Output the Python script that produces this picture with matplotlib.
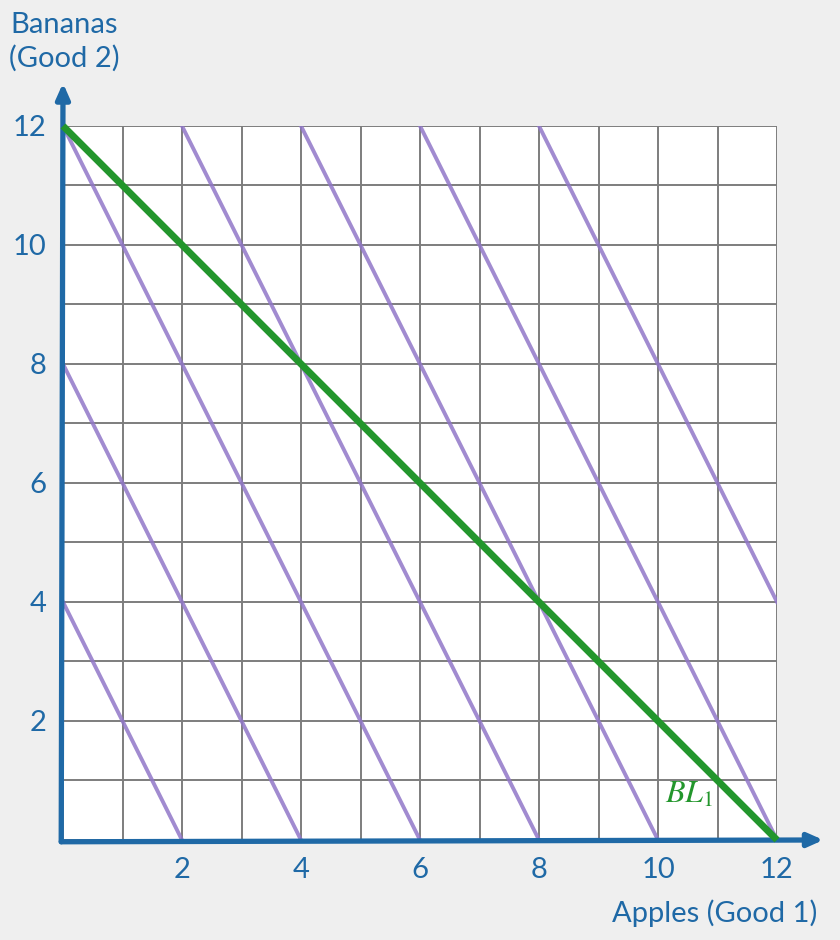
import numpy as np
import matplotlib.pyplot as plt

# indifference lines u = 2*apples + bananas (perfect substitutes)
util_levels = [4, 8, 12, 16, 20, 24, 28]
mrs = 2
# budget line 1
bl_x = [0, 12]
bl_y = [12, 0]
ticks = [2, 4, 6, 8, 10, 12]

blue = '#1f69a6'
purple = '#9177c8'
green = '#23962c'
plt.rcParams['font.family'] = ['Lato', 'DejaVu Sans']
plt.rcParams['mathtext.fontset'] = 'stix'

fig = plt.figure(figsize=(8.4, 9.4), dpi=100, facecolor='#efefef')
ax = fig.add_axes([0.075, 0.1064, 0.85, 0.7596])
ax.set_facecolor('white')

ax.set_xlim(0, 12)
ax.set_ylim(0, 12)
ax.set_xticks(np.arange(0, 13, 1))
ax.set_yticks(np.arange(0, 13, 1))
ax.grid(True, color='#7d7d7d', linewidth=1.4)
ax.set_xticklabels([str(t) if t in ticks else '' for t in range(13)])
ax.set_yticklabels([str(t) if t in ticks else '' for t in range(13)])
ax.tick_params(length=0, labelsize=21, labelcolor=blue, pad=12)
for s in ax.spines.values():
    s.set_visible(False)

xs = np.array([0, 12])
for u in util_levels:
    ax.plot(xs, u - mrs * xs, color=purple, lw=2.8, alpha=0.85, zorder=3)

ax.plot(bl_x, bl_y, color=green, lw=5, zorder=4, solid_capstyle='butt', clip_on=False)
ax.text(10.52, 0.78, r'$BL_1$', color=green, fontsize=23, ha='center', va='center', zorder=6)

# axes with arrows
ax.annotate('', xy=(0, 12.72), xytext=(-0.03, -0.03), annotation_clip=False,
            arrowprops=dict(arrowstyle='-|>,head_length=0.9,head_width=0.4', color=blue, lw=3.8, shrinkA=0, shrinkB=0))
ax.annotate('', xy=(12.78, 0), xytext=(-0.03, -0.03), annotation_clip=False,
            arrowprops=dict(arrowstyle='-|>,head_length=0.9,head_width=0.4', color=blue, lw=3.8, shrinkA=0, shrinkB=0))

fig.text(64 / 840, 1 - 42 / 940, 'Bananas\n(Good 2)', color=blue, fontsize=21,
         ha='center', va='center', linespacing=1.3)
fig.text(715 / 840, 1 - 913 / 940, 'Apples (Good 1)', color=blue, fontsize=21,
         ha='center', va='center')

fig.savefig('out.png', dpi=100, facecolor=fig.get_facecolor())
